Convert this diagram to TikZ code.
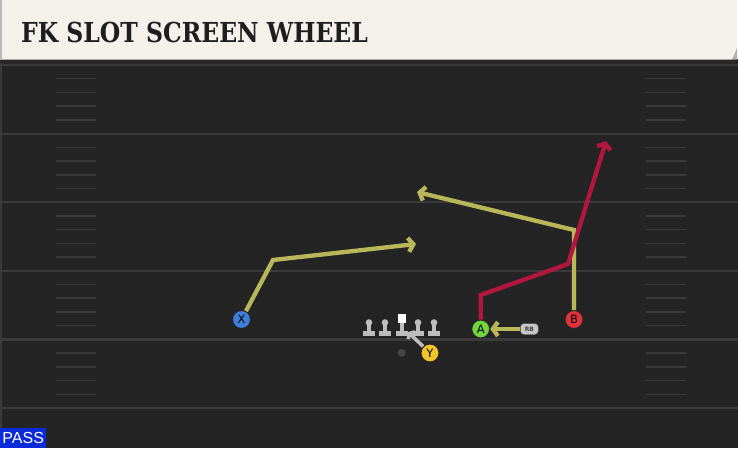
\documentclass[tikz,border=0pt]{standalone}
\usepackage{fontspec}
\usepackage{tikz}
\usepackage{xcolor}
\usetikzlibrary{arrows.meta, positioning}

\setsansfont{DejaVu Sans}
\newfontfamily\titlefont{DejaVu Serif}
\newfontfamily\tagfont{Liberation Sans}

\definecolor{fieldbg}{HTML}{242424}
\definecolor{fieldline}{HTML}{3A3A3A}
\definecolor{bannerbg}{HTML}{F4F1EA}
\definecolor{titleink}{HTML}{1E1E1E}
\definecolor{passblue}{HTML}{0B2BD8}
\definecolor{routeyellow}{HTML}{B9B75A}
\definecolor{routered}{HTML}{B3173F}
\definecolor{lineman}{HTML}{BDBDBD}
\definecolor{xblue}{HTML}{3F7FDB}
\definecolor{ayellow}{HTML}{F2C42C}
\definecolor{agreen}{HTML}{72D43F}
\definecolor{bred}{HTML}{E2323C}

\begin{document}
\begin{tikzpicture}[x = 1pt, y = -1pt,
    player/.style = {circle, draw = black!85, line width = 1pt, inner sep = 0pt,
                     minimum size = 18pt, text = black,
                     font = \sffamily\fontsize{11.5}{11.5}\selectfont},
    route/.style  = {line width = 4.3pt, line join = miter,
                     -{Straight Barb[length = 5pt, width = 14pt]}},
    hash/.style   = {fieldline, line width = 1.5pt},
    yard/.style   = {fieldline, line width = 2.2pt}]

    \useasboundingbox (0, 0) rectangle (738, 448);

    % field and title banner
    \fill[fieldbg] (0, 59) rectangle (738, 448);
    \fill[black!85] (0, 59) rectangle (738, 63);
    \fill[bannerbg] (2, 0) -- (737, 0) -- (737, 48) -- (732, 59.5) -- (2, 59.5) -- cycle;
    \fill[gray!60] (732, 59.5) -- (737, 48) -- (737, 59.5) -- cycle;
    \fill[gray!55] (0, 0) rectangle (2, 59.5);
    \fill[fieldline] (0, 63) rectangle (2, 448);
    \node[anchor = base west, inner sep = 0pt, text = titleink, xscale = 0.855,
          font = \titlefont\bfseries\fontsize{27.5}{27.5}\selectfont] (title) at (21, 42)
          {FK SLOT SCREEN WHEEL};

    % yard lines and hash marks
    \foreach \k in {0, ..., 5}
        \draw[yard] (2, 65 + 68.6*\k) -- (738, 65 + 68.6*\k);
    \foreach \k in {0, ..., 4}
        \foreach \i in {1, ..., 4} {
            \draw[hash] (56, 65 + 68.6*\k + 13.72*\i) -- (96, 65 + 68.6*\k + 13.72*\i);
            \draw[hash] (646, 65 + 68.6*\k + 13.72*\i) -- (686, 65 + 68.6*\k + 13.72*\i);
        }

    % offensive line
    \foreach \x in {369, 385, 418, 434} {
        \fill[lineman] (\x, 322.5) circle (3.3);
        \fill[lineman] (\x - 2.3, 323) rectangle (\x + 2.3, 332);
        \fill[lineman] (\x - 6, 331) rectangle (\x + 6, 335.5);
    }
    \fill[white] (397.5, 314) rectangle (406, 323);
    \fill[lineman] (399.5, 323) rectangle (404, 332);
    \fill[lineman] (395.7, 331) rectangle (407.7, 335.5);

    % players
    \node[circle, fill = gray!55!black, inner sep = 0pt, minimum size = 8pt] (qb) at (401.7, 352.7) {};
    \node[player, fill = xblue]   (X) at (241.5, 319.5) {X};
    \node[player, fill = ayellow] (Y) at (430, 353)     {Y};
    \node[player, fill = agreen]  (A) at (480.7, 329)   {A};
    \node[player, fill = bred]    (B) at (574, 319.5)   {B};
    \node[rounded corners = 3.5pt, fill = lineman!85, draw = black!70, inner sep = 0pt,
          minimum width = 18pt, minimum height = 11pt, text = black!75,
          font = \sffamily\bfseries\fontsize{6}{6}\selectfont] (RB) [right = 30pt of A] {RB};

    % route points
    \coordinate (x1) at (273, 260);
    \coordinate (x2) at (416, 244);
    \coordinate (a1) at (480.7, 295);
    \coordinate (a2) at (568, 264);
    \coordinate (a3) at (606, 141);
    \coordinate (b1) at (574, 230);
    \coordinate (b2) at (417, 192);
    \coordinate (y1) at (408, 332);

    % routes
    \draw[route, routeyellow] (X) -- (x1) -- (x2);
    \draw[route, routeyellow] (B) -- (b1) -- (b2);
    \draw[route, routered] (A) -- (a1) -- (a2) -- (a3);
    \draw[route, routeyellow] (RB) -- (A);
    \draw[lineman, line width = 3.5pt, -{Straight Barb[length = 3pt, width = 10pt]}] (Y) -- (y1);

    % play type
    \node[fill = passblue, text = white, anchor = south west, inner sep = 0pt,
          minimum width = 46pt, minimum height = 20pt,
          font = \tagfont\fontsize{16}{16}\selectfont] (pass) at (0, 448) {PASS};
\end{tikzpicture}
\end{document}
